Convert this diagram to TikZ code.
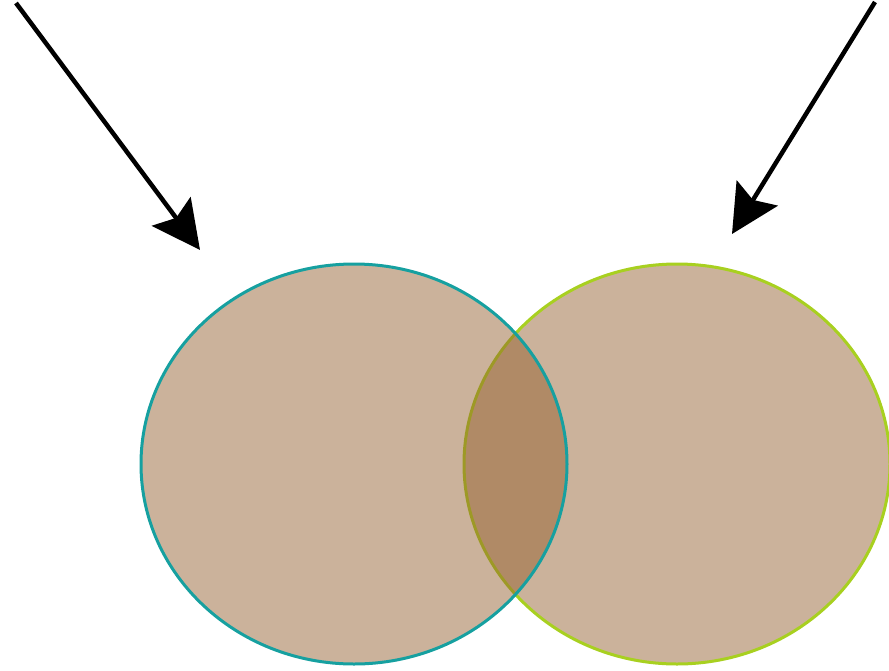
\documentclass[tikz,border=0pt]{standalone}
\usetikzlibrary{arrows.meta,shapes.geometric}
\definecolor{setfill}{RGB}{147,95,45}
\definecolor{tealedge}{RGB}{22,160,160}
\definecolor{limeedge}{RGB}{168,208,32}
\tikzset{
  setshape/.style={ellipse, minimum width=426pt, minimum height=400pt, inner sep=0pt,
    fill=setfill, fill opacity=0.48, draw opacity=1, line width=3pt},
  pointer/.style={line width=4.5pt, -{Stealth[length=48pt,width=48pt,inset=8pt]}}
}
\begin{document}
\begin{tikzpicture}[x=1pt,y=-1pt]
\useasboundingbox (0,0) rectangle (889,670);
\node[setshape, draw=limeedge] (B) at (677,464) {};
\node[setshape, draw=tealedge] (A) at (354,464) {};
\coordinate (s1) at (16,3);
\coordinate (e1) at (200,250);
\coordinate (s2) at (875,2);
\coordinate (e2) at (732,234);
\draw[pointer] (s1) -- (e1);
\draw[pointer] (s2) -- (e2);
\end{tikzpicture}
\end{document}
